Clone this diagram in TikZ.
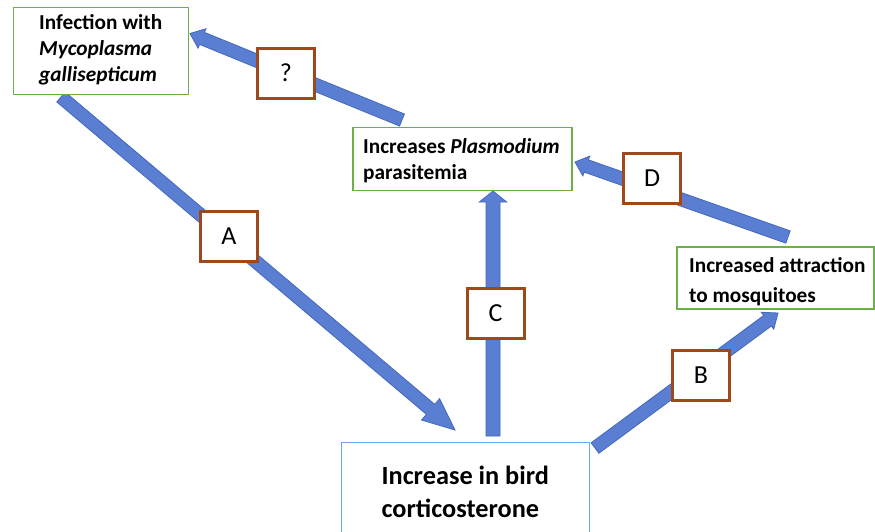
\documentclass[tikz,border=0pt]{standalone}
\usepackage{fontspec}
\setmainfont{Carlito}
\usetikzlibrary{calc}
\definecolor{arrfill}{RGB}{89,126,210}
\definecolor{arredge}{RGB}{68,104,188}
\definecolor{boxgreen}{RGB}{106,178,72}
\definecolor{labbrown}{RGB}{158,72,28}
\definecolor{boxblue}{RGB}{110,168,236}
% #2 tail, #3 tip, #4 half shaft width, #5 half head width, #6 head length
\newcommand\blockarrow[6][]{%
  \path[blockarr,#1] let \p1=(#2), \p2=(#3), \n1={atan2(\y2-\y1,\x2-\x1)} in
    ($(\p1)+(\n1+90:#4)$) --
    ($(\p2)+(\n1+180:#6)+(\n1+90:#4)$) --
    ($(\p2)+(\n1+180:#6)+(\n1+90:#5)$) --
    (\p2) --
    ($(\p2)+(\n1+180:#6)+(\n1-90:#5)$) --
    ($(\p2)+(\n1+180:#6)+(\n1-90:#4)$) --
    ($(\p1)+(\n1-90:#4)$) -- cycle;%
}
\begin{document}
\begin{tikzpicture}[x=1pt,y=-1pt,
  greenbox/.style={draw=boxgreen, line width=1.5pt, fill=white, inner sep=0pt},
  bluebox/.style={draw=boxblue, line width=1.5pt, fill=white, inner sep=0pt},
  labelbox/.style={draw=labbrown, line width=3pt, fill=white, minimum width=57pt,
    minimum height=50pt, inner sep=0pt, font=\fontsize{26}{30}\selectfont},
  boxtext/.style={inner sep=0pt, anchor=north west, align=left,
    font=\bfseries\fontsize{21.3}{26}\selectfont},
  blockarr/.style={fill=arrfill, draw=arredge, line width=0.8pt, line join=miter}
]
\useasboundingbox (0,0) rectangle (875,531);

% arrow end points
\coordinate (qT) at (402,120);   \coordinate (qH) at (190,33.5);
\coordinate (aT) at (61,97);     \coordinate (aH) at (455,430);
\coordinate (cT) at (493,436);   \coordinate (cH) at (493,191);
\coordinate (dT) at (788,237);   \coordinate (dH) at (575,162);
\coordinate (bT) at (595,448);   \coordinate (bH) at (778,313);

% arrows
\blockarrow{qT}{qH}{6.5pt}{10.5pt}{13pt}
\blockarrow{aT}{aH}{6.5pt}{14pt}{32pt}
\blockarrow{cT}{cH}{7pt}{13.7pt}{11pt}
\blockarrow{dT}{dH}{6.5pt}{10.5pt}{12pt}
\blockarrow{bT}{bH}{6.5pt}{10.5pt}{13pt}

% boxes
\node[greenbox, minimum width=175pt, minimum height=87pt] (myco) at (100.8,50.8) {};
\node[greenbox, minimum width=219pt, minimum height=63pt] (plas) at (462.3,159) {};
\node[greenbox, minimum width=197pt, minimum height=62pt] (attr) at (775.5,278) {};
\node[bluebox, minimum width=248pt, minimum height=100pt] (cort) at (465.5,492.5) {};

% box texts
\node[boxtext] (mycot) at (39,14.5) {Infection with\\\textit{Mycoplasma}\\\textit{gallisepticum}};
\node[boxtext] (plast) at (363,138.5) {Increases \textit{Plasmodium}\\parasitemia};
\node[boxtext, font=\bfseries\fontsize{21.3}{30}\selectfont] (attrt) at (689,257.5) {Increased attraction\\to mosquitoes};
\node[boxtext, font=\bfseries\fontsize{26.3}{33}\selectfont] (cortt) at (381.4,466) {Increase in bird\\corticosterone};

% labels
\node[labelbox] (lq) at (286,73) {?};
\node[labelbox] (la) at (229,236.5) {A};
\node[labelbox] (ld) at (652,178.5) {D};
\node[labelbox] (lc) at (495.5,313.5) {C};
\node[labelbox] (lb) at (701,375.6) {B};
\end{tikzpicture}
\end{document}
